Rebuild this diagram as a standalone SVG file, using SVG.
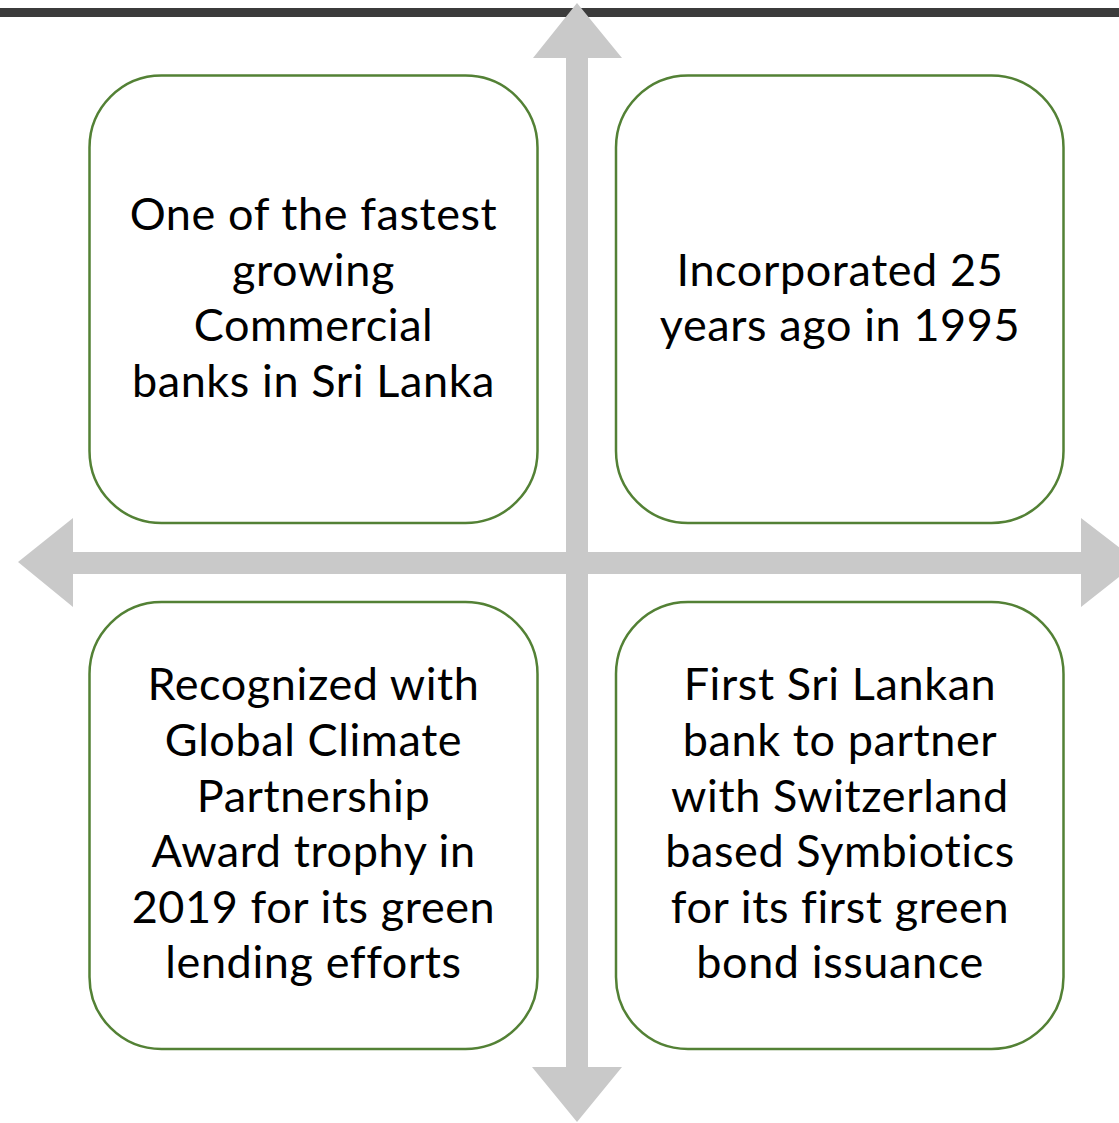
<svg xmlns="http://www.w3.org/2000/svg" width="1119" height="1123" viewBox="0 0 1119 1123">
  <style>
    .box { fill: #ffffff; stroke: #538135; stroke-width: 2.5; }
    .axis { fill: #c9c9c9; }
    .label { font-family: Lato, "Liberation Sans", sans-serif; font-size: 45px; letter-spacing: 0.6px; fill: #000000; text-anchor: middle; font-variant-ligatures: none; }
  </style>
  <rect x="0" y="8" width="1119" height="9" fill="#3b3b3b"/>
  <g id="connectors">
    <polygon class="axis" points="577,3 622,58 588,58 588,1067 622,1067 577,1122 532,1067 566,1067 566,58 533,58"/>
    <polygon class="axis" points="18,562 73,518 73,552 1081,552 1081,518 1138,562 1081,607 1081,574 73,574 73,607"/>
  </g>
  <g id="node-growth">
    <rect class="box" x="89.5" y="75.5" width="448" height="447.5" rx="72" ry="72"/>
    <text class="label" x="313.5" y="230">One of the fastest</text>
    <text class="label" x="313.5" y="286">growing</text>
    <text class="label" x="313.5" y="341">Commercial</text>
    <text class="label" x="313.5" y="397">banks in Sri Lanka</text>
  </g>
  <g id="node-incorporated">
    <rect class="box" x="616" y="75.5" width="447.5" height="447.5" rx="72" ry="72"/>
    <text class="label" x="840" y="286">Incorporated 25</text>
    <text class="label" x="840" y="341">years ago in 1995</text>
  </g>
  <g id="node-award">
    <rect class="box" x="89.5" y="602" width="448" height="447" rx="72" ry="72"/>
    <text class="label" x="313.5" y="700">Recognized with</text>
    <text class="label" x="313.5" y="756">Global Climate</text>
    <text class="label" x="313.5" y="812">Partnership</text>
    <text class="label" x="313.5" y="867">Award trophy in</text>
    <text class="label" x="313.5" y="923">2019 for its green</text>
    <text class="label" x="313.5" y="978">lending efforts</text>
  </g>
  <g id="node-greenbond">
    <rect class="box" x="616" y="602" width="447.5" height="447" rx="72" ry="72"/>
    <text class="label" x="840" y="700">First Sri Lankan</text>
    <text class="label" x="840" y="756">bank to partner</text>
    <text class="label" x="840" y="812">with Switzerland</text>
    <text class="label" x="840" y="867">based Symbiotics</text>
    <text class="label" x="840" y="923">for its first green</text>
    <text class="label" x="840" y="978">bond issuance</text>
  </g>
</svg>
